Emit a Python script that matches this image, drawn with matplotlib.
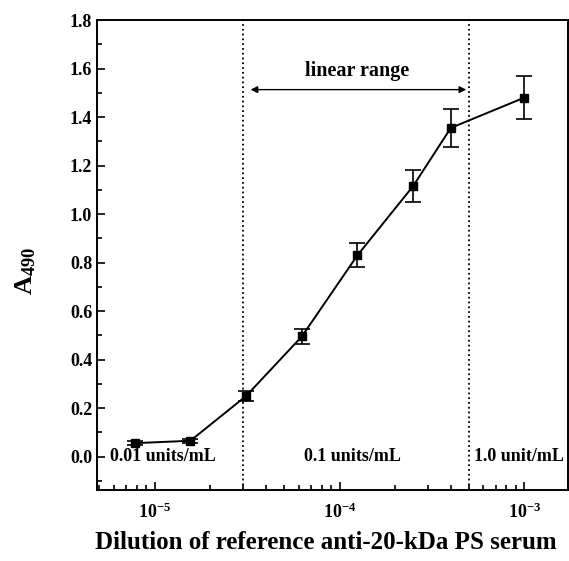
import numpy as np
import matplotlib.pyplot as plt
from matplotlib.ticker import FixedLocator, NullFormatter, MultipleLocator

plt.rcParams['font.family'] = 'Liberation Serif'
plt.rcParams['font.weight'] = 'bold'
plt.rcParams['mathtext.fontset'] = 'custom'
plt.rcParams['mathtext.rm'] = 'Liberation Serif:bold'
plt.rcParams['mathtext.it'] = 'Liberation Serif:bold'
plt.rcParams['mathtext.bf'] = 'Liberation Serif:bold'

# dilution and absorbance data
dilution = [7.8e-6, 1.56e-5, 3.125e-5, 6.25e-5, 1.25e-4, 2.5e-4, 4.0e-4, 1.0e-3]
a490 = [0.055, 0.065, 0.25, 0.495, 0.83, 1.115, 1.355, 1.48]
a490_err = [0.008, 0.008, 0.02, 0.03, 0.05, 0.065, 0.08, 0.09]

region_bounds = [3.0e-5, 5.0e-4]
region_labels = ['0.01 units/mL', '0.1 units/mL', '1.0 unit/mL']
region_label_x = [1.1e-5, 1.17e-4, 9.3e-4]

fig = plt.figure(figsize=(5.69, 5.61), dpi=100)
ax = fig.add_axes([0.1705, 0.1266, 0.8275, 0.8377])

ax.errorbar(dilution, a490, yerr=a490_err, color='black', marker='s',
            markersize=6, linewidth=1.4, capsize=6, capthick=1.2,
            elinewidth=1.2)

for xb in region_bounds:
    ax.axvline(xb, color='black', linestyle=':', linewidth=1.3)

for lab, xl in zip(region_labels, region_label_x):
    ax.text(xl, 0.0, lab, ha='center', va='center', fontsize=13,
            fontweight='bold')

# linear range arrow
ax.annotate('', xy=(3.3e-5, 1.513), xytext=(4.85e-4, 1.513),
            arrowprops=dict(arrowstyle='<|-|>', color='black', lw=1.0,
                            mutation_scale=10, shrinkA=0, shrinkB=0))
ax.text(1.25e-4, 1.59, 'linear range', ha='center', va='center',
        fontsize=14.5, fontweight='bold')

ax.set_xscale('log')
ax.set_xlim(4.87e-6, 1.72e-3)
ax.set_ylim(-0.138, 1.8)

ax.xaxis.set_major_locator(FixedLocator([1e-5, 1e-4, 1e-3]))
ax.set_xticklabels(['$10^{-5}$', '$10^{-4}$', '$10^{-3}$'])
minors = [m * 10.0 ** e for e in (-6, -5, -4, -3) for m in range(2, 10)]
ax.xaxis.set_minor_locator(FixedLocator(minors))
ax.xaxis.set_minor_formatter(NullFormatter())

ax.yaxis.set_major_locator(MultipleLocator(0.2))
ax.yaxis.set_minor_locator(MultipleLocator(0.1))
ax.yaxis.set_major_formatter(plt.FuncFormatter(lambda v, p: f'{v:.1f}'))

ax.tick_params(which='both', direction='in', top=False, right=False,
               labelsize=13, width=1.2)
ax.tick_params(which='major', length=6)
ax.tick_params(which='minor', length=3.5)
ax.tick_params(axis='x', pad=9)
for sp in ax.spines.values():
    sp.set_linewidth(1.4)

ax.set_ylabel('A$_{490}$', fontsize=19, fontweight='bold')
ax.yaxis.set_label_coords(-0.125, 0.466)
ax.set_xlabel('Dilution of reference anti-20-kDa PS serum', fontsize=18,
              fontweight='bold')
ax.xaxis.set_label_coords(0.486, -0.088)

fig.savefig('out.png', dpi=100)
